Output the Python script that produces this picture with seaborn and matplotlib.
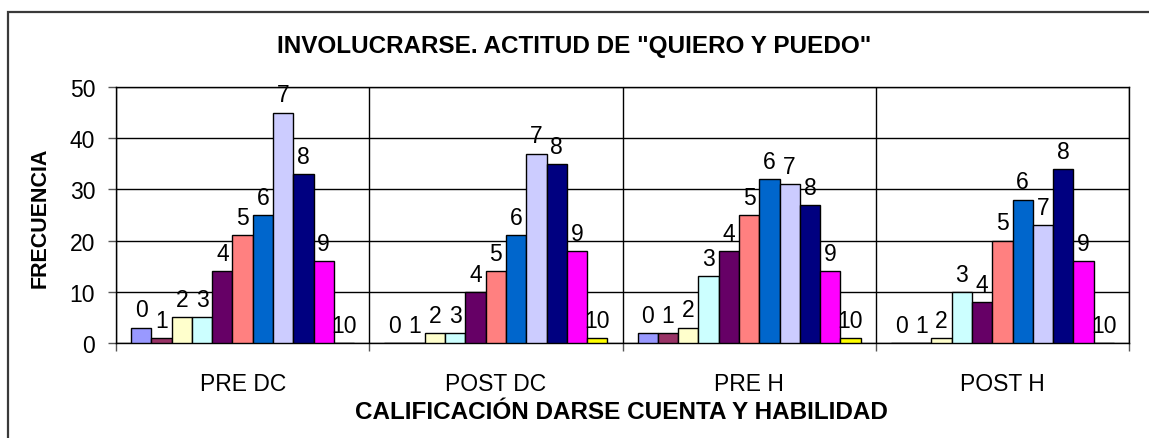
import matplotlib
matplotlib.use("Agg")
import matplotlib.pyplot as plt
import pandas as pd
import seaborn as sns
from matplotlib.patches import Rectangle

# Frequencies of each score (0-10) for every evaluation phase
phases = ["PRE DC", "POST DC", "PRE H", "POST H"]
scores = [str(i) for i in range(11)]
pre_dc = [3, 1, 5, 5, 14, 21, 25, 45, 33, 16, 0]
post_dc = [0, 0, 2, 2, 10, 14, 21, 37, 35, 18, 1]
pre_h = [2, 2, 3, 13, 18, 25, 32, 31, 27, 14, 1]
post_h = [0, 0, 1, 10, 8, 20, 28, 23, 34, 16, 0]
score_colors = ["#9999FF", "#993366", "#FFFFCC", "#CCFFFF", "#660066", "#FF8080",
                "#0066CC", "#CCCCFF", "#000080", "#FF00FF", "#FFFF00"]

rows = []
for phase, vals in zip(phases, [pre_dc, post_dc, pre_h, post_h]):
    for s, v in zip(scores, vals):
        rows.append({"fase": phase, "calificacion": s, "frecuencia": v})
df = pd.DataFrame(rows)

sns.set_theme(style="white")
plt.rcParams["font.family"] = ["Liberation Sans", "DejaVu Sans"]

W, H = 1149, 439
fig = plt.figure(figsize=(W / 100, H / 100), dpi=100)
ax = fig.add_axes([116 / W, 95 / H, 1013 / W, 256 / H])

sns.barplot(data=df, x="fase", y="frecuencia", hue="calificacion",
            order=phases, hue_order=scores, palette=score_colors,
            saturation=1, width=0.88, edgecolor="black", linewidth=1,
            errorbar=None, legend=False, ax=ax, zorder=3)

# Each bar is tagged with its score
for container, label in zip(ax.containers, scores):
    ax.bar_label(container, labels=[label] * len(container), padding=4.5,
                 fontsize=16.5, color="black")

ax.set_xlim(-0.5, 3.5)
ax.set_ylim(0, 50)
ax.set_yticks(range(0, 51, 10))
ax.set_xticks(range(len(phases)))
ax.set_xticks([-0.5, 0.5, 1.5, 2.5, 3.5], minor=True)
ax.set_xticklabels(phases)

ax.grid(axis="y", which="major", color="black", linewidth=1, zorder=0)
ax.grid(axis="x", which="minor", color="black", linewidth=1, zorder=0)
ax.grid(axis="x", which="major", visible=False)
ax.set_axisbelow(True)

for side in ["left", "bottom", "right", "top"]:
    ax.spines[side].set_visible(True)
    ax.spines[side].set_color("black")
    ax.spines[side].set_linewidth(1)

ax.tick_params(axis="y", which="major", left=True, length=6, width=1,
               color="#555555", pad=9, labelsize=16.5, labelcolor="black")
ax.tick_params(axis="x", which="major", bottom=True, length=0, pad=21,
               labelsize=16.5, labelcolor="black")
ax.tick_params(axis="x", which="minor", bottom=True, length=6, width=1,
               color="#555555")

ax.set_xlabel("")
ax.set_ylabel("")
fig.text(40 / W, 1 - 218 / H, "FRECUENCIA", rotation=90, ha="center",
         va="center", fontsize=15.5, fontweight="bold", color="black")
fig.text(621 / W, 1 - 413 / H, "CALIFICACIÓN DARSE CUENTA Y HABILIDAD",
         ha="center", va="center", fontsize=17.5, fontweight="bold", color="black")
fig.text(574 / W, 1 - 46 / H, 'INVOLUCRARSE. ACTITUD DE "QUIERO Y PUEDO"',
         ha="center", va="center", fontsize=17.5, fontweight="bold", color="black")

# Chart area border
frame = Rectangle((8 / W, -0.2), 1.2, 1.2 - 13 / H, transform=fig.transFigure,
                  fill=False, edgecolor="#3a3a3a", linewidth=1.6, clip_on=False)
fig.add_artist(frame)

fig.savefig("out.png", dpi=100)
